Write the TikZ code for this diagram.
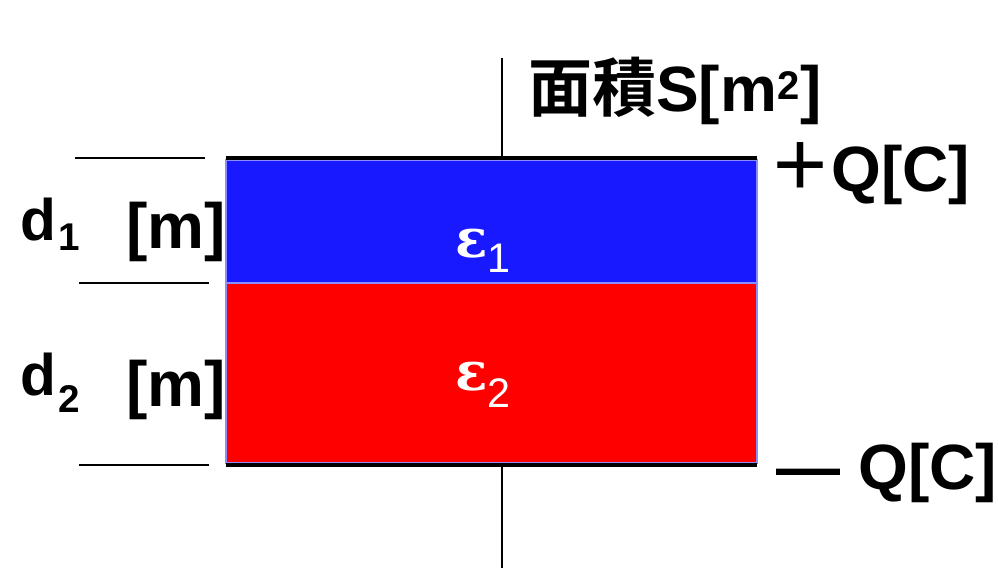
\documentclass[tikz,border=0pt]{standalone}
\usepackage{fontspec}
\setmainfont{Liberation Sans}
\newfontfamily\cjk{Noto Sans CJK JP}[BoldFont=* Bold]
\newfontfamily\serifgr{DejaVu Serif}
\definecolor{plateblue}{RGB}{25,25,255}
\definecolor{platered}{RGB}{255,0,0}
\definecolor{edgeblue}{RGB}{140,140,255}
\begin{document}
\begin{tikzpicture}[x=0.75pt,y=-0.75pt,
  lbl/.style={inner sep=0pt,anchor=base west,font=\bfseries\fontsize{48}{48}\selectfont},
  dlbl/.style={inner sep=0pt,anchor=base west,font=\bfseries\fontsize{44}{44}\selectfont},
  sublbl/.style={inner sep=0pt,anchor=base west,font=\bfseries\fontsize{29}{29}\selectfont},
  epslbl/.style={inner sep=0pt,anchor=base west,text=white,font=\serifgr\bfseries\fontsize{40}{40}\selectfont},
  epssub/.style={inner sep=0pt,anchor=base west,text=white,font=\fontsize{31}{31}\selectfont},
  plate/.style={line width=3pt,black},
  thin/.style={line width=1.1pt,black},
  layer/.style={draw=edgeblue,line width=1.2pt}]
\useasboundingbox (0,0) rectangle (998,577);
% layers
\fill[plateblue] (226,160) rectangle (757,283);
\fill[platered] (226,283) rectangle (757,463);
\draw[layer] (226,160) rectangle (757,283);
\draw[layer] (226,283) rectangle (757,463);
% plates
\coordinate (tl) at (226,158);
\coordinate (tr) at (757,158);
\coordinate (bl) at (226,465);
\coordinate (br) at (757,465);
\draw[plate] (tl) -- (tr);
\draw[plate] (bl) -- (br);
% lead wires
\coordinate (vt1) at (502,58);
\coordinate (vt2) at (502,157);
\coordinate (vb1) at (502,467);
\coordinate (vb2) at (502,568);
\draw[thin] (vt1) -- (vt2);
\draw[thin] (vb1) -- (vb2);
% dimension ticks
\coordinate (k1a) at (75,158);
\coordinate (k1b) at (205,158);
\coordinate (k2a) at (79,283);
\coordinate (k2b) at (209,283);
\coordinate (k3a) at (79,465);
\coordinate (k3b) at (209,465);
\draw[thin] (k1a) -- (k1b);
\draw[thin] (k2a) -- (k2b);
\draw[thin] (k3a) -- (k3b);
% labels
\node[lbl] (area) at (528,112) {{\cjk 面積}S[m\textsuperscript{\fontsize{30}{30}\selectfont 2}]};
\node[inner sep=0pt,anchor=base west,font=\cjk\bfseries\fontsize{48}{48}\selectfont] (plus) at (768,190) {＋};
\node[lbl] (qp) at (831,192) {Q[C]};
\node[lbl] (minus) at (776,489) {—};
\node[lbl] (qm) at (858,489) {Q[C]};
\node[dlbl] (d1) at (20,240) {d};
\node[sublbl] (d1s) at (58,250) {1};
\node[lbl] (m1) at (126,248) {[m]};
\node[dlbl] (d2) at (20,395) {d};
\node[sublbl] (d2s) at (58,412) {2};
\node[lbl] (m2) at (126,406) {[m]};
\node[epslbl] (e1) at (455,257) {ε};
\node[epssub] (e1s) at (487,272) {1};
\node[epslbl] (e2) at (455,390) {ε};
\node[epssub] (e2s) at (487,407) {2};
\end{tikzpicture}
\end{document}
